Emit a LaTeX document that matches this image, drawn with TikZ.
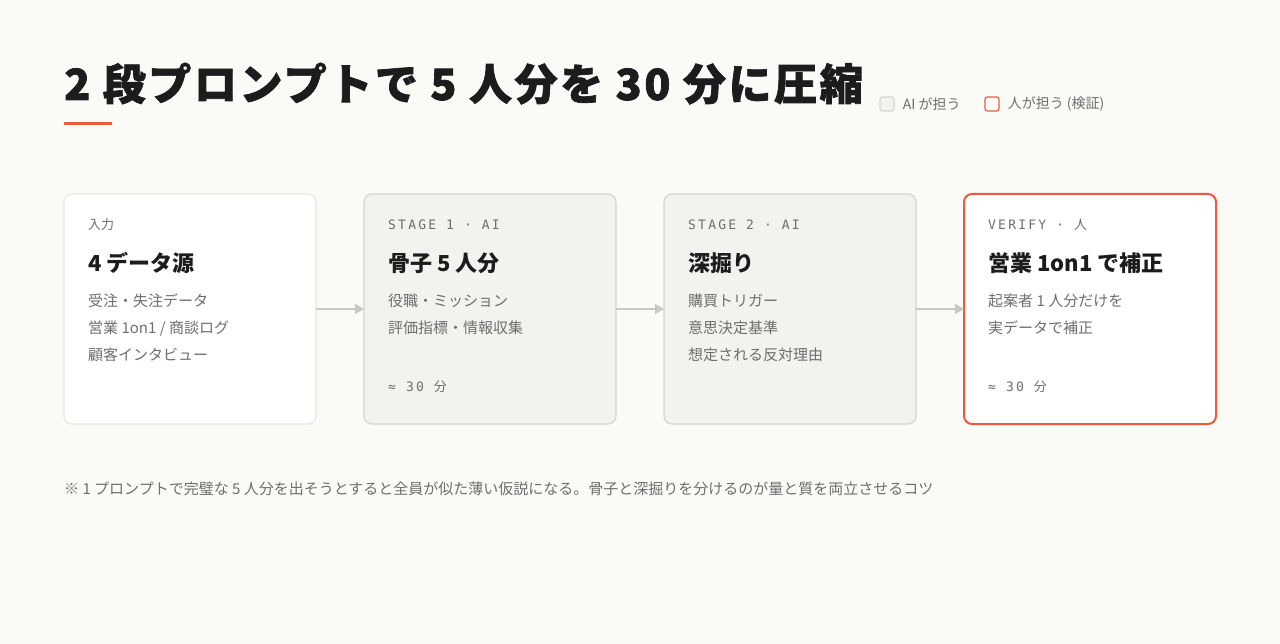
\documentclass[tikz,border=0pt]{standalone}
\usepackage{fontspec}
\setmainfont{Noto Sans CJK JP}
\newfontfamily\monofont{DejaVu Sans Mono}[LetterSpace=17]
\newfontfamily\jp{Noto Sans CJK JP}
\newfontfamily\titlefont{Noto Sans CJK JP}[FakeBold=1.6, LetterSpace=6]
\usetikzlibrary{arrows.meta,positioning}

\definecolor{pagebg}{HTML}{FAFAF7}
\definecolor{ink}{HTML}{1C1C1E}
\definecolor{muted}{HTML}{6E6E6E}
\definecolor{accent}{HTML}{F05A3C}
\definecolor{aifill}{HTML}{F2F2EE}
\definecolor{aiedge}{HTML}{D6D6CF}
\definecolor{inedge}{HTML}{E8E8E2}
\definecolor{flowgray}{HTML}{C9C9C1}

\tikzset{
  card/.style={rounded corners=8pt, minimum width=252pt, minimum height=230pt, inner sep=0pt, outer sep=0pt, line width=1.2pt},
  incard/.style={card, draw=inedge, fill=white},
  aicard/.style={card, draw=aiedge, fill=aifill},
  humancard/.style={card, draw=accent, fill=white, line width=2pt},
  tag/.style={anchor=base west, inner sep=0pt, text=muted, font=\monofont\fontsize{13}{15}\selectfont},
  head/.style={anchor=base west, inner sep=0pt, text=ink, font=\bfseries\fontsize{22}{26}\selectfont},
  body/.style={anchor=base west, inner sep=0pt, text=muted, font=\fontsize{15}{18}\selectfont},
  keybox/.style={minimum size=14pt, inner sep=0pt, rounded corners=2.5pt, line width=1.2pt},
  legend/.style={inner sep=0pt, text=muted, font=\fontsize{14}{16}\selectfont},
  flow/.style={-{Triangle[length=9pt,width=10pt]}, draw=flowgray, line width=1.5pt},
}

\begin{document}
\begin{tikzpicture}[x=1pt, y=-1pt]
    \fill [pagebg] (0,0) rectangle (1280,644);
    \useasboundingbox (0,0) rectangle (1280,644);

    % title
    \node (title) [anchor=base west, inner sep=0pt, text=ink, font=\titlefont\bfseries\fontsize{43}{48}\selectfont] at (64,100) {2 段プロンプトで 5 人分を 30 分に圧縮};
    \node (titlebar) [anchor=north west, fill=accent, minimum width=48pt, minimum height=3pt, inner sep=0pt] at (64,122) {};

    % legend
    \node (aikey) [keybox, draw=aiedge, fill=aifill] at (887,104) {};
    \node (aikeytext) [legend, right=8pt of aikey] {AI が担う};
    \node (humankey) [keybox, draw=accent, fill=white] at (992,104) {};
    \node (humankeytext) [legend, right=8pt of humankey] {人が担う (検証)};

    % cards
    \node (input)  [incard] at (190,309) {};
    \node (stage1) [aicard, right=48pt of input] {};
    \node (stage2) [aicard, right=48pt of stage1] {};
    \node (verify) [humancard, right=48pt of stage2] {};

    % card 1
    \node (inputtag)   [tag]  at ([shift={(24,36)}]input.north west)  {\jp 入力};
    \node (inputhead)  [head] at ([shift={(24,78)}]input.north west)  {4 データ源};
    \node (inputline1) [body] at ([shift={(24,113)}]input.north west) {受注・失注データ};
    \node (inputline2) [body] at ([shift={(24,140)}]input.north west) {営業 1on1 / 商談ログ};
    \node (inputline3) [body] at ([shift={(24,166)}]input.north west) {顧客インタビュー};

    % card 2
    \node (stage1tag)   [tag]  at ([shift={(24,36)}]stage1.north west)  {STAGE 1 · AI};
    \node (stage1head)  [head] at ([shift={(24,78)}]stage1.north west)  {骨子 5 人分};
    \node (stage1line1) [body] at ([shift={(24,113)}]stage1.north west) {役職・ミッション};
    \node (stage1line2) [body] at ([shift={(24,140)}]stage1.north west) {評価指標・情報収集};
    \node (stage1time)  [tag]  at ([shift={(24,197)}]stage1.north west) {≈ 30 {\jp 分}};

    % card 3
    \node (stage2tag)   [tag]  at ([shift={(24,36)}]stage2.north west)  {STAGE 2 · AI};
    \node (stage2head)  [head] at ([shift={(24,78)}]stage2.north west)  {深掘り};
    \node (stage2line1) [body] at ([shift={(24,113)}]stage2.north west) {購買トリガー};
    \node (stage2line2) [body] at ([shift={(24,140)}]stage2.north west) {意思決定基準};
    \node (stage2line3) [body] at ([shift={(24,166)}]stage2.north west) {想定される反対理由};

    % card 4
    \node (verifytag)   [tag]  at ([shift={(24,36)}]verify.north west)  {VERIFY · {\jp 人}};
    \node (verifyhead)  [head] at ([shift={(24,78)}]verify.north west)  {営業 1on1 で補正};
    \node (verifyline1) [body] at ([shift={(24,113)}]verify.north west) {起案者 1 人分だけを};
    \node (verifyline2) [body] at ([shift={(24,140)}]verify.north west) {実データで補正};
    \node (verifytime)  [tag]  at ([shift={(24,197)}]verify.north west) {≈ 30 {\jp 分}};

    % flow
    \draw [flow] (input)  to (stage1);
    \draw [flow] (stage1) to (stage2);
    \draw [flow] (stage2) to (verify);

    % note
    \node (note) [body] at (64,494) {※ 1 プロンプトで完璧な 5 人分を出そうとすると全員が似た薄い仮説になる。骨子と深掘りを分けるのが量と質を両立させるコツ};
\end{tikzpicture}
\end{document}
